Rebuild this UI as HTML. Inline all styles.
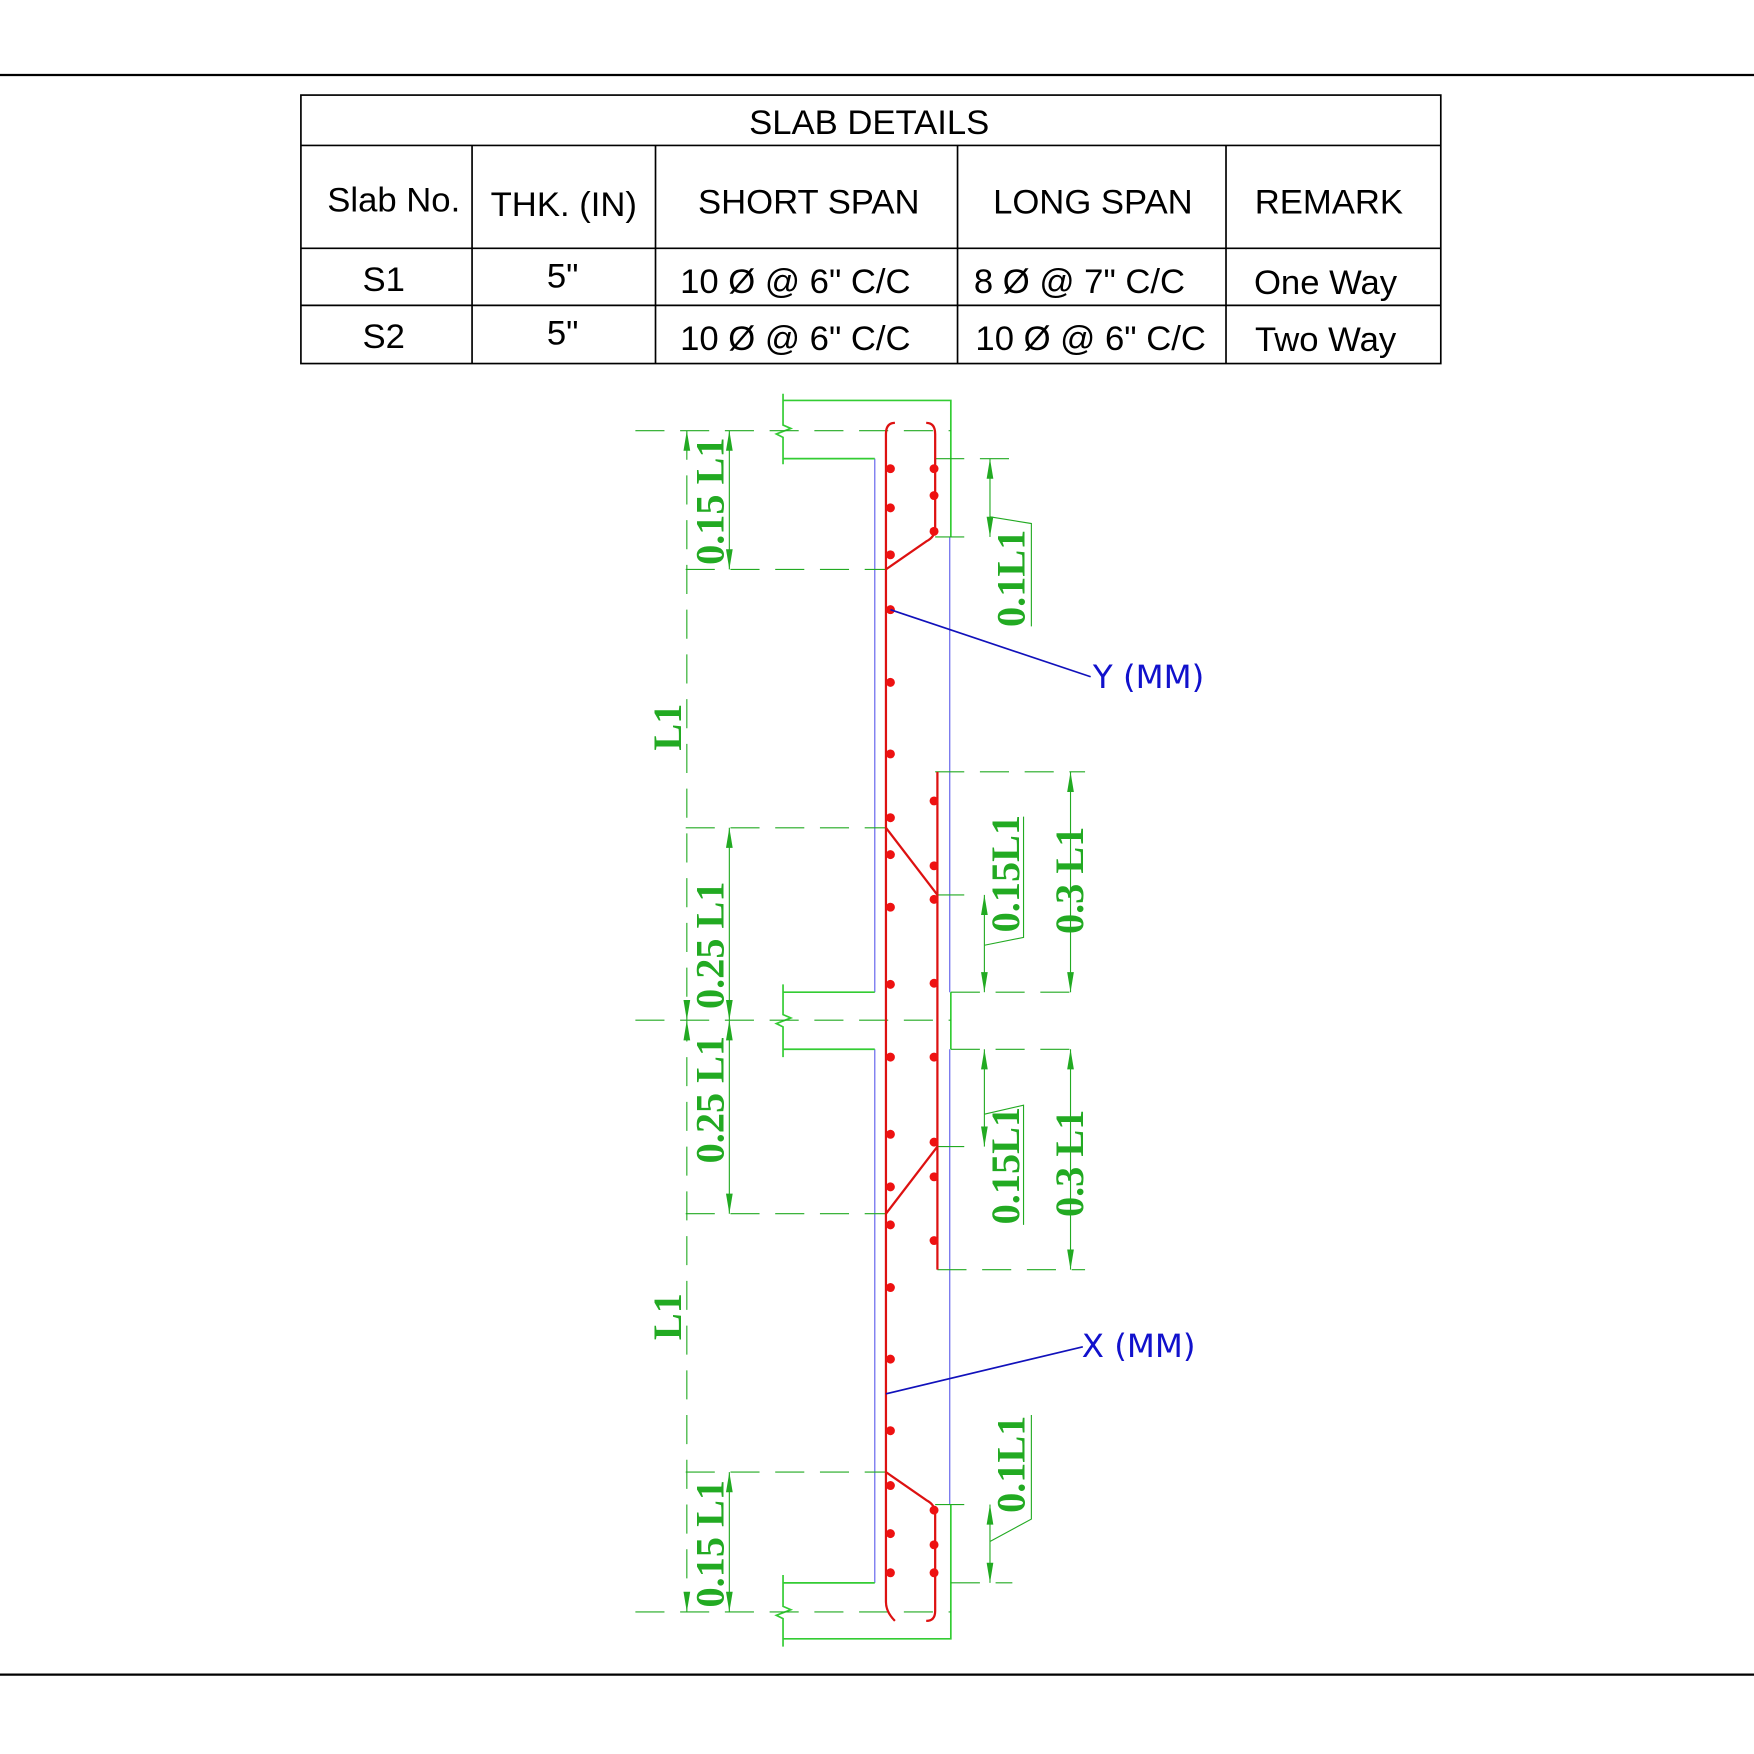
<!DOCTYPE html>
<html><head><style>html,body{margin:0;padding:0;background:#fff}svg{display:block}</style></head><body>
<svg width="1754" height="1754" viewBox="0 0 1568 1568" xmlns="http://www.w3.org/2000/svg">
<rect width="1568" height="1568" fill="#fff"/>
<line x1="0" y1="67" x2="1568" y2="67" stroke="#000" stroke-width="2"/>
<line x1="0" y1="1497" x2="1568" y2="1497" stroke="#000" stroke-width="2"/>
<g stroke="#000" stroke-width="1.5" fill="none">
<rect x="269" y="85" width="1019" height="240"/>
<line x1="269" y1="130" x2="1288" y2="130"/>
<line x1="269" y1="222" x2="1288" y2="222"/>
<line x1="269" y1="273" x2="1288" y2="273"/>
<line x1="422" y1="130" x2="422" y2="325"/>
<line x1="586" y1="130" x2="586" y2="325"/>
<line x1="856" y1="130" x2="856" y2="325"/>
<line x1="1096" y1="130" x2="1096" y2="325"/>
</g>
<g font-family="Liberation Sans, sans-serif" font-size="31" fill="#000" text-anchor="middle">
<text x="777" y="120">SLAB DETAILS</text>
<text x="352" y="189">Slab No.</text>
<text x="504" y="193">THK. (IN)</text>
<text x="723" y="191">SHORT SPAN</text>
<text x="977" y="191">LONG SPAN</text>
<text x="1188" y="191">REMARK</text>
<text x="343" y="260">S1</text><text x="503" y="257">5"</text>
<text x="711" y="262">10 Ø @ 6" C/C</text><text x="965" y="262">8 Ø @ 7" C/C</text><text x="1185" y="263">One Way</text>
<text x="343" y="311">S2</text><text x="503" y="308">5"</text>
<text x="711" y="313">10 Ø @ 6" C/C</text><text x="975" y="313">10 Ø @ 6" C/C</text><text x="1185" y="314">Two Way</text>
</g>
<g stroke="#7777ee" stroke-width="1.2">
<line x1="782" y1="410" x2="782" y2="887"/><line x1="782" y1="938" x2="782" y2="1415"/>
<line x1="849" y1="480" x2="849" y2="887"/><line x1="849" y1="938" x2="849" y2="1345"/>
</g>
<g stroke="#33cc33" stroke-width="1.5" fill="none">
<polyline points="700,352 700,380 707,383 694,388 700,391 700,415"/>
<polyline points="700,358 850,358 850,480"/>
<line x1="700" y1="410" x2="782" y2="410"/>
<polyline points="700,880 700,907 707,910 694,915 700,918 700,945"/>
<line x1="700" y1="887" x2="782" y2="887"/><line x1="700" y1="938" x2="782" y2="938"/>
<line x1="850" y1="887" x2="850" y2="938"/>
<polyline points="700,1408 700,1436 707,1439 694,1444 700,1447 700,1472"/>
<line x1="700" y1="1415" x2="782" y2="1415"/>
<polyline points="700,1465 850,1465 850,1345"/>
</g>
<g stroke="#22aa22" stroke-width="1" stroke-dasharray="26,14" fill="none">
<line x1="568" y1="385" x2="850" y2="385"/>
<line x1="613" y1="509" x2="792" y2="509"/>
<line x1="613" y1="740" x2="792" y2="740"/>
<line x1="568" y1="912" x2="850" y2="912"/>
<line x1="613" y1="1085" x2="792" y2="1085"/>
<line x1="613" y1="1316" x2="792" y2="1316"/>
<line x1="568" y1="1441" x2="850" y2="1441"/>
<line x1="614" y1="385" x2="614" y2="1441"/>
<line x1="836" y1="410" x2="905" y2="410"/>
<line x1="836" y1="690" x2="970" y2="690"/>
<line x1="850" y1="887" x2="970" y2="887"/>
<line x1="850" y1="938" x2="970" y2="938"/>
<line x1="838" y1="1135" x2="970" y2="1135"/>
<line x1="850" y1="1415" x2="905" y2="1415"/>
</g>
<g stroke="#22aa22" stroke-width="1" fill="none">
<line x1="836" y1="480" x2="862" y2="480"/><line x1="838" y1="800" x2="862" y2="800"/>
<line x1="838" y1="1025" x2="862" y2="1025"/><line x1="836" y1="1345" x2="862" y2="1345"/>
<line x1="652" y1="385" x2="652" y2="509"/><line x1="652" y1="740" x2="652" y2="1085"/><line x1="652" y1="1316" x2="652" y2="1441"/>
<line x1="885" y1="410" x2="885" y2="480"/><line x1="885" y1="1345" x2="885" y2="1415"/>
<line x1="880" y1="800" x2="880" y2="887"/><line x1="880" y1="938" x2="880" y2="1025"/>
<line x1="957" y1="690" x2="957" y2="887"/><line x1="957" y1="938" x2="957" y2="1135"/>
<polyline points="885,462 922,468 922,560"/>
<polyline points="885,1378 922,1358 922,1265"/>
<polyline points="880,845 915,838 915,730"/>
<polyline points="880,996 915,988 915,1095"/>
</g>
<g fill="#22aa22">
<path d="M614,385 l-3,18 h6z M614,1441 l-3,-18 h6z M614,912 l-3,-18 h6z M614,912 l-3,18 h6z"/>
<path d="M652,385 l-3,18 h6z M652,509 l-3,-18 h6z M652,740 l-3,18 h6z M652,912 l-3,-18 h6z M652,912 l-3,18 h6z M652,1085 l-3,-18 h6z M652,1316 l-3,18 h6z M652,1441 l-3,-18 h6z"/>
<path d="M885,410 l-3,18 h6z M885,480 l-3,-18 h6z M885,1345 l-3,18 h6z M885,1415 l-3,-18 h6z"/>
<path d="M880,800 l-3,18 h6z M880,887 l-3,-18 h6z M880,938 l-3,18 h6z M880,1025 l-3,-18 h6z"/>
<path d="M957,690 l-3,18 h6z M957,887 l-3,-18 h6z M957,938 l-3,18 h6z M957,1135 l-3,-18 h6z"/>
</g>
<g font-family="Liberation Serif, serif" font-weight="bold" font-size="36" fill="#22aa22" text-anchor="middle">
<text transform="translate(609,650) rotate(-90)">L1</text>
<text transform="translate(609,1177) rotate(-90)">L1</text>
<text transform="translate(647,448) rotate(-90)">0.15 L1</text>
<text transform="translate(647,845) rotate(-90)">0.25 L1</text>
<text transform="translate(647,983) rotate(-90)">0.25 L1</text>
<text transform="translate(647,1380) rotate(-90)">0.15 L1</text>
<text transform="translate(916,517) rotate(-90)">0.1L1</text>
<text transform="translate(916,1309) rotate(-90)">0.1L1</text>
<text transform="translate(911,781) rotate(-90)">0.15L1</text>
<text transform="translate(911,1042) rotate(-90)">0.15L1</text>
<text transform="translate(968,787) rotate(-90)">0.3 L1</text>
<text transform="translate(968,1040) rotate(-90)">0.3 L1</text>
</g>
<g stroke="#dd1111" stroke-width="2" fill="none">
<path d="M800,378 Q792,378 792,388 V1432 Q792,1441 800,1449"/>
<path d="M828,378 Q836,378 836,388 V472 Q836,480 828,484 L792,509"/>
<path d="M828,1449 Q836,1449 836,1440 V1353 Q836,1345 828,1341 L792,1316"/>
<line x1="838" y1="690" x2="838" y2="1135"/>
<line x1="792" y1="740" x2="838" y2="800"/>
<line x1="792" y1="1085" x2="838" y2="1025"/>
</g>
<g fill="#ee1111">
<circle cx="796" cy="419" r="4"/><circle cx="796" cy="454" r="4"/><circle cx="796" cy="496" r="4"/><circle cx="796" cy="545" r="4"/><circle cx="796" cy="610" r="4"/><circle cx="796" cy="674" r="4"/><circle cx="796" cy="731" r="4"/><circle cx="796" cy="764" r="4"/><circle cx="796" cy="811" r="4"/><circle cx="796" cy="880" r="4"/><circle cx="796" cy="945" r="4"/><circle cx="796" cy="1014" r="4"/><circle cx="796" cy="1061" r="4"/><circle cx="796" cy="1095" r="4"/><circle cx="796" cy="1151" r="4"/><circle cx="796" cy="1215" r="4"/><circle cx="796" cy="1279" r="4"/><circle cx="796" cy="1328" r="4"/><circle cx="796" cy="1371" r="4"/><circle cx="796" cy="1406" r="4"/>
<circle cx="835" cy="419" r="4"/><circle cx="835" cy="443" r="4"/><circle cx="835" cy="475" r="4"/><circle cx="835" cy="716" r="4"/><circle cx="835" cy="774" r="4"/><circle cx="835" cy="804" r="4"/><circle cx="835" cy="879" r="4"/><circle cx="835" cy="945" r="4"/><circle cx="835" cy="1021" r="4"/><circle cx="835" cy="1052" r="4"/><circle cx="835" cy="1109" r="4"/><circle cx="835" cy="1350" r="4"/><circle cx="835" cy="1381" r="4"/><circle cx="835" cy="1406" r="4"/>
</g>
<g stroke="#1111bb" stroke-width="1.5">
<line x1="796" y1="545" x2="975" y2="605"/>
<line x1="792" y1="1246" x2="968" y2="1204"/>
</g>
<g font-family="DejaVu Sans, sans-serif" font-size="29" fill="#1111cc">
<text x="977" y="615">Y (MM)</text>
<text x="967" y="1213">X (MM)</text>
</g>
</svg>
</body></html>
